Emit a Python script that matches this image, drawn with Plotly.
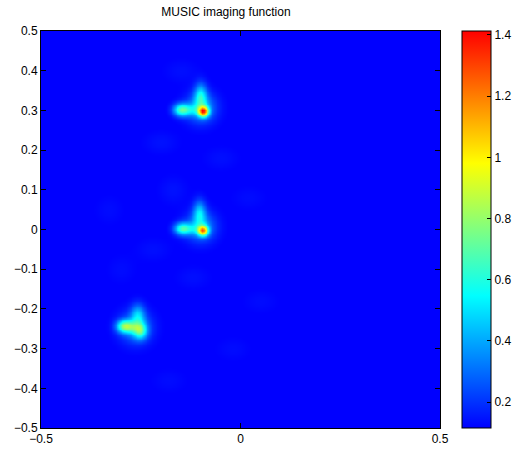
import numpy as np
import plotly.graph_objects as go

# Grid of the imaging domain
grid_min, grid_max, grid_n = -0.5, 0.5, 241
base_level = 0.108

# Features: centres, amplitudes, widths (x, y)
blob_x   = [-0.094, -0.100, -0.150, -0.101, -0.125,
            -0.095, -0.101, -0.148, -0.104, -0.124,
            -0.252, -0.264, -0.292, -0.258, -0.272,
            -0.20, -0.05, -0.17, 0.02, -0.22, -0.12, -0.30, 0.05, -0.15, -0.33, -0.02, -0.18]
blob_y   = [0.298, 0.308, 0.302, 0.338, 0.302,
            -0.002, 0.008, 0.003, 0.043, 0.002,
            -0.255, -0.245, -0.243, -0.215, -0.246,
            0.22, 0.18, 0.10, 0.08, -0.05, -0.12, -0.10, -0.18, 0.40, 0.05, -0.30, -0.38]
blob_amp = [0.95, 0.30, 0.50, 0.36, 0.18,
            0.85, 0.28, 0.45, 0.32, 0.16,
            0.40, 0.25, 0.50, 0.28, 0.18,
            0.035, 0.03, 0.035, 0.025, 0.03, 0.03, 0.025, 0.025, 0.03, 0.025, 0.025, 0.025]
blob_sx  = [0.009, 0.026, 0.014, 0.011, 0.018,
            0.009, 0.026, 0.014, 0.011, 0.018,
            0.012, 0.028, 0.014, 0.012, 0.016,
            0.03, 0.03, 0.025, 0.03, 0.03, 0.03, 0.025, 0.03, 0.03, 0.025, 0.03, 0.03]
blob_sy  = [0.009, 0.026, 0.011, 0.022, 0.010,
            0.009, 0.026, 0.011, 0.022, 0.010,
            0.014, 0.028, 0.011, 0.020, 0.010,
            0.02, 0.02, 0.025, 0.02, 0.02, 0.02, 0.025, 0.02, 0.02, 0.025, 0.02, 0.02]

x = np.linspace(grid_min, grid_max, grid_n)
y = np.linspace(grid_min, grid_max, grid_n)
X, Y = np.meshgrid(x, y)
Z = np.full_like(X, base_level)
for bx, by, ba, sx, sy in zip(blob_x, blob_y, blob_amp, blob_sx, blob_sy):
    Z += ba * np.exp(-((X - bx) ** 2 / (2 * sx ** 2) + (Y - by) ** 2 / (2 * sy ** 2)))

cmin, cmax = 0.115, 1.413
colorbar_ticks = [0.2, 0.4, 0.6, 0.8, 1.0, 1.2, 1.4]
colorbar_labels = ["0.2", "0.4", "0.6", "0.8", "1", "1.2", "1.4"]
x_ticks = [-0.5, 0, 0.5]
y_ticks = [-0.5, -0.4, -0.3, -0.2, -0.1, 0, 0.1, 0.2, 0.3, 0.4, 0.5]

jet_scale = [
    [0.0, "rgb(0,0,255)"],
    [0.333, "rgb(0,255,255)"],
    [0.5, "rgb(128,255,128)"],
    [0.667, "rgb(255,255,0)"],
    [1.0, "rgb(255,0,0)"],
]

fig = go.Figure(go.Heatmap(
    x=x, y=y, z=Z, zmin=cmin, zmax=cmax, colorscale=jet_scale,
    zsmooth="best",
    colorbar=dict(
        x=1.055, xanchor="left", y=0.5, yanchor="middle", len=1.0,
        thickness=29, outlinecolor="black", outlinewidth=1,
        tickvals=colorbar_ticks, ticktext=colorbar_labels,
        ticks="inside", ticklen=4, tickcolor="black",
        tickfont=dict(size=12, color="black"),
        xpad=0, ypad=0,
    ),
))

fig.update_layout(
    width=519, height=450,
    margin=dict(l=41, r=79, t=31, b=22, autoexpand=False),
    paper_bgcolor="white", plot_bgcolor="white",
    font=dict(family="Liberation Sans, Arial, sans-serif", size=12, color="black"),
    title=dict(text="MUSIC imaging function", x=0.4635, xanchor="center",
               xref="paper", y=1 - 12 / 450, yref="container", yanchor="middle",
               font=dict(size=12)),
)
axis_common = dict(showline=True, linecolor="black", linewidth=1, mirror="ticks",
                   ticks="inside", ticklen=5, tickcolor="black", showgrid=False,
                   zeroline=False, tickfont=dict(size=12, color="black"))
fig.update_xaxes(range=[-0.5, 0.5], tickvals=x_ticks, **axis_common)
fig.update_yaxes(range=[-0.5, 0.5], tickvals=y_ticks, **axis_common)

fig.write_html("out.html", config={"displayModeBar": False},
               post_script="document.body.style.margin='0px';document.body.style.overflow='hidden';")
